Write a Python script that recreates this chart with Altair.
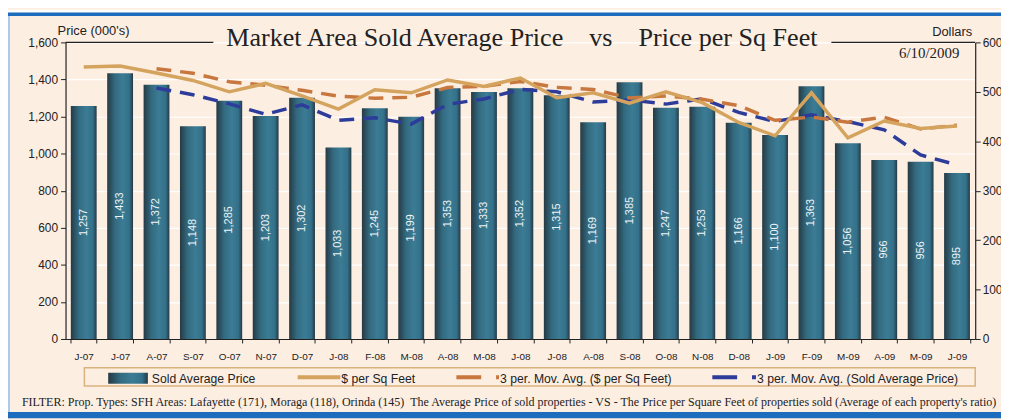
import altair as alt
import pandas as pd

months = ["J-07", "J-07", "A-07", "S-07", "O-07", "N-07", "D-07", "J-08", "F-08", "M-08",
          "A-08", "M-08", "J-08", "J-08", "A-08", "S-08", "O-08", "N-08", "D-08", "J-09",
          "F-09", "M-09", "A-09", "M-09", "J-09"]
avg_price = [1257, 1433, 1372, 1148, 1285, 1203, 1302, 1033, 1245, 1199,
             1353, 1333, 1352, 1315, 1169, 1385, 1247, 1253, 1166, 1100,
             1363, 1056, 966, 956, 895]
sqft = [550, 552, 538, 523, 500, 517, 492, 465, 504, 498,
        524, 511, 528, 488, 498, 477, 500, 478, 438, 411,
        498, 407, 441, 426, 431]

left_ticks = [0, 200, 400, 600, 800, 1000, 1200, 1400, 1600]
right_ticks = [0, 100, 200, 300, 400, 500, 600]

title_text = "Market Area Sold Average Price\u00a0\u00a0\u00a0\u00a0vs\u00a0\u00a0\u00a0\u00a0Price per Sq Feet"
date_text = "6/10/2009"
footer_text = ("FILTER: Prop. Types: SFH Areas: Lafayette (171), Moraga (118), Orinda (145)\u00a0\u00a0"
               "The Average Price of sold properties - VS - The Price per Square Feet of "
               "properties sold (Average of each property's ratio)")
legend_labels = ["Sold Average Price", "$ per Sq Feet",
                 "3 per. Mov. Avg. ($ per Sq Feet)", "3 per. Mov. Avg. (Sold Average Price)"]

df = pd.DataFrame({"idx": list(range(len(months))), "month": months,
                   "avg": avg_price, "sqft": sqft})
one = pd.DataFrame({"a": [0]})

SANS = "Liberation Sans"
SERIF = "Liberation Serif"
PEACH = "#FDEEE2"
TAN = "#D4A35E"
ORANGE = "#C8773E"
BLUE = "#2D3C9A"
FRAME_BLUE = "#1E6CBD"
INK = "#222222"

bar_grad = alt.Gradient(
    gradient="linear", x1=0, x2=1, y1=0, y2=0,
    stops=[alt.GradientStop(color="#263A44", offset=0),
           alt.GradientStop(color="#336A80", offset=0.3),
           alt.GradientStop(color="#3B7C94", offset=0.6),
           alt.GradientStop(color="#34708A", offset=0.85),
           alt.GradientStop(color="#263A44", offset=1)])

label_expr = "[" + ",".join("'" + m + "'" for m in months) + "][datum.value]"

x_enc = alt.X("idx:O", title=None,
              scale=alt.Scale(paddingInner=0.29, paddingOuter=0.145),
              axis=alt.Axis(labelExpr=label_expr, labelAngle=0, labelFont=SANS,
                            labelFontSize=10, labelColor=INK, labelPadding=9,
                            tickBand="extent", tickSize=4, tickColor=INK,
                            domainColor=INK, domainWidth=1.2, grid=False))

y_left = alt.Scale(domain=[0, 1600], nice=False)
y_right = alt.Scale(domain=[0, 600], nice=False)

left_axis = alt.Axis(values=left_ticks, format=",d", labelFont=SANS,
                     labelFontSize=12, labelColor=INK, tickSize=5, tickColor=INK,
                     domainColor=INK, domainWidth=1.2,
                     labelPadding=3, grid=True, gridColor="#FFFFFF", gridWidth=1.2)
right_axis = alt.Axis(orient="right", values=right_ticks, labelFont=SANS, labelFontSize=12,
                      labelColor=INK, tickSize=5, tickColor=INK,
                      domainColor=INK, domainWidth=1.2, labelPadding=2, grid=False)

base = alt.Chart(df)

bars = base.mark_bar(color=bar_grad).encode(
    x=x_enc, y=alt.Y("avg:Q", scale=y_left, title=None, axis=left_axis))

labels = base.transform_calculate(mid="datum.avg / 2").mark_text(
    angle=270, color="#EEF4F7", font=SANS, fontSize=11, align="center", baseline="middle"
).encode(
    x=x_enc,
    y=alt.Y("mid:Q", scale=y_left, title=None, axis=left_axis),
    text=alt.Text("avg:Q", format=",d"))

ma_avg = base.transform_window(
    ma="mean(avg)", frame=[-2, 0], sort=[alt.SortField("idx")]
).transform_filter("datum.idx >= 2").mark_line(
    color=BLUE, strokeWidth=3.5, strokeDash=[15, 9]
).encode(x=x_enc, y=alt.Y("ma:Q", scale=y_left, title=None, axis=left_axis))

sqft_line = base.mark_line(color=TAN, strokeWidth=3.5).encode(
    x=x_enc, y=alt.Y("sqft:Q", scale=y_right, title=None, axis=right_axis))

ma_sqft = base.transform_window(
    ma2="mean(sqft)", frame=[-2, 0], sort=[alt.SortField("idx")]
).transform_filter("datum.idx >= 2").mark_line(
    color=ORANGE, strokeWidth=3.5, strokeDash=[15, 9]
).encode(x=x_enc, y=alt.Y("ma2:Q", scale=y_right, title=None, axis=right_axis))

d = alt.Chart(one)


def rect(x, x2, y, y2, **kw):
    return d.mark_rect(**kw).encode(x=alt.value(x), x2=alt.value(x2),
                                    y=alt.value(y), y2=alt.value(y2))


def rule(x, x2, y, **kw):
    return d.mark_rule(**kw).encode(x=alt.value(x), x2=alt.value(x2), y=alt.value(y))


def text(s, x, y, **kw):
    return d.mark_text(text=s, baseline="alphabetic", **kw).encode(
        x=alt.value(x), y=alt.value(y))


decor = [
    # frame pieces (these also fix the chart bounds)
    rect(-58, 943, -33, -30, color="#FFFFFF"),
    rect(-58, 943, -30, -26.5, color=FRAME_BLUE),
    rect(-58, -56, -26.5, 379, color="#ACCBEA"),
    rect(-58, 943, 372.5, 379, color=FRAME_BLUE),
    # top line of plot, interrupted by title
    rule(0, 149, 0, color=INK, strokeWidth=1.2),
    rule(772, 917, 0, color=INK, strokeWidth=1.2),
    # titles
    text(title_text, 460, 4, align="center", font=SERIF, fontSize=26.3, color=INK),
    text(date_text, 901, 16, align="right", font=SERIF, fontSize=15, color=INK),
    text("Price (000's)", -8, -7, align="left", font=SANS, fontSize=13, color=INK),
    text("Dollars", 914, -6, align="right", font=SANS, fontSize=13, color=INK),
    # legend
    rect(19, 917, 328, 346.5, fillOpacity=0, stroke="#D9B27E", strokeWidth=1.5),
    rect(43, 83, 333, 344, color=bar_grad),
    text(legend_labels[0], 87, 343, align="left", font=SANS, fontSize=12.3, color=INK),
    rule(234, 277, 337.5, color=TAN, strokeWidth=4),
    text(legend_labels[1], 278, 343, align="left", font=SANS, fontSize=12.3, color=INK),
    rule(394, 437, 337.5, color=ORANGE, strokeWidth=4, strokeDash=[25, 15]),
    text(legend_labels[2], 438, 343, align="left", font=SANS, fontSize=12.3, color=INK),
    rule(652, 696, 337.5, color=BLUE, strokeWidth=4, strokeDash=[25, 15]),
    text(legend_labels[3], 697, 343, align="left", font=SANS, fontSize=12.3, color=INK),
    # footer
    text(footer_text, -44, 367, align="left", font=SERIF, fontSize=12.1, color=INK),
]

left_layer = alt.layer(bars, labels, ma_avg, *decor)
right_layer = alt.layer(ma_sqft, sqft_line)

chart = alt.layer(left_layer, right_layer).resolve_scale(
    y="independent"
).properties(
    width=917, height=299,
    autosize=alt.AutoSizeParams(type="none"),
    padding={"left": 58, "top": 33, "right": 26, "bottom": 80},
).configure(background=PEACH).configure_view(stroke=None)

chart.save("out.html", embed_options={"renderer": "svg", "actions": False})
